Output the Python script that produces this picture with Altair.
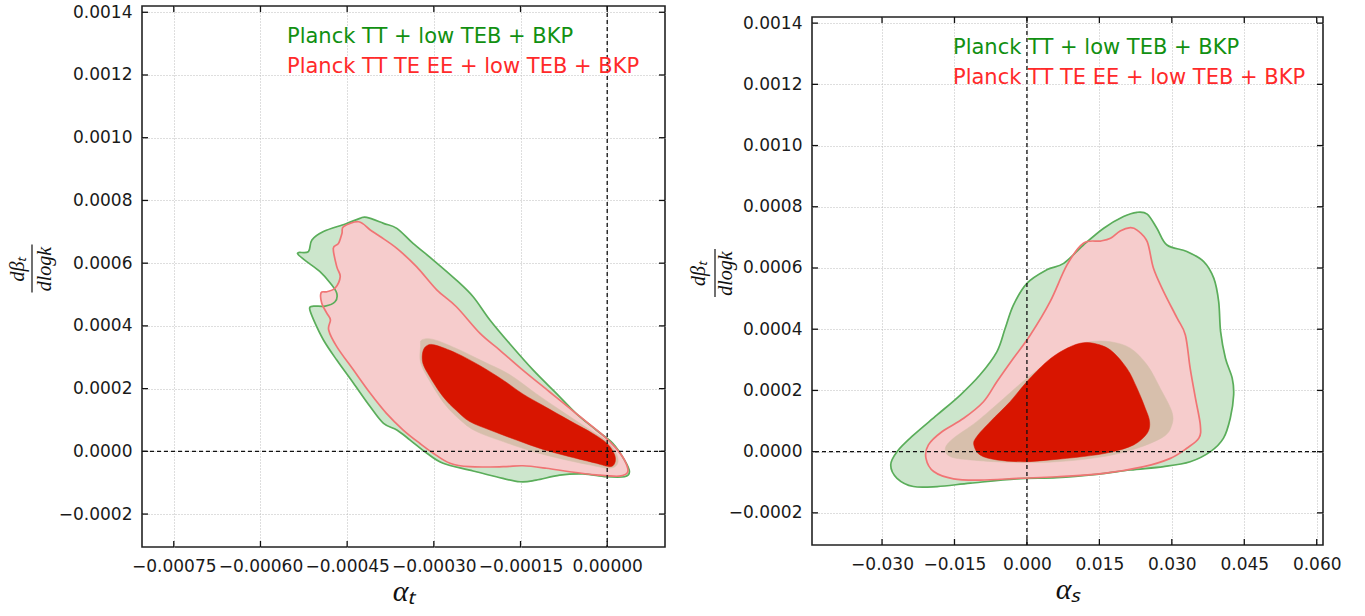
import altair as alt
import pandas as pd

# ---------------- data (left panel: alpha_t vs dbeta_t/dlogk), x and y in units of 1e-5 ----------------
L_SCALE_X = 1e-5
L_SCALE_Y = 1e-5

L_green95_x = [-53.4, -51.7, -51.1, -49.1, -45.3, -42.8, -41.6, -38.7, -36.4, -33.6, -30.1, -26.1, -23.2, -20.3,
               -16.9, -12.8, -8.8, -5.4, -1.9, 1.0, 3.0, 3.85, 3.0, -0.2, -4.2, -8.2, -12.3, -15.1, -19.2, -23.8,
               -28.4, -31.2, -34.1, -36.4, -38.7, -41.0, -43.9, -46.8, -49.1, -50.8, -51.5, -50.8, -48.8, -47.1,
               -46.8, -47.9, -49.7, -52.0, -53.4]
L_green95_y = [63.4, 63.7, 67.4, 70.1, 72.5, 74.3, 74.6, 72.7, 71.1, 66.3, 61.0, 54.6, 49.3, 41.9,
               34.4, 25.9, 18.5, 12.1, 6.8, 2.5, -2.8, -6.5, -8.1, -8.1, -7.2, -7.6, -9.2, -9.7, -8.1, -6.0,
               -3.8, -0.6, 3.6, 6.8, 8.9, 14.2, 21.7, 29.1, 35.5, 41.9, 45.6, 46.3, 46.3, 47.7,
               50.4, 53.6, 57.3, 60.5, 62.6]

L_red95_x = [-43.0, -41.0, -39.3, -36.4, -33.0, -29.5, -26.1, -22.0, -18.6, -14.6, -10.0, -5.4, -0.75, 1.55,
             3.0, 3.56, 2.1, -1.9, -6.5, -10.5, -14.6, -18.0, -23.8, -27.2, -30.1, -32.4, -35.3, -38.2, -41.0,
             -43.9, -46.8, -48.2, -47.9, -48.5, -49.4, -49.5, -48.5, -47.1, -46.2, -46.8, -47.4, -46.5, -45.9,
             -45.6]
L_red95_y = [73.2, 70.6, 68.5, 64.7, 58.9, 51.5, 46.1, 37.6, 32.3, 25.9, 19.0, 12.1, 5.2, 0.95,
             -2.8, -6.5, -7.9, -7.5, -6.5, -5.4, -4.6, -4.9, -4.9, -3.8, -0.6, 2.5, 6.8, 12.1, 18.5,
             25.9, 33.4, 38.7, 41.9, 44.0, 47.2, 50.6, 50.9, 52.0, 55.7, 58.9, 64.7, 66.3, 69.5,
             71.7]

L_green68_x = [-32.1, -30.1, -26.1, -21.5, -16.9, -12.3, -7.7, -3.1, -0.2, 1.55, 1.8, 0.4, -3.1, -7.7,
               -12.8, -18.0, -22.6, -25.2, -28.1, -30.8, -32.3, -32.3]
L_green68_y = [35.5, 35.7, 32.8, 28.7, 24.5, 18.4, 12.6, 7.0, 3.5, -0.6, -3.9, -5.4, -4.3, -2.5,
               -0.1, 3.1, 6.3, 9.6, 15.0, 22.7, 28.3, 33.4]

L_red68_x = [-31.2, -29.8, -26.1, -22.0, -18.0, -14.6, -11.1, -6.5, -2.5, 0.1, 1.3, 1.3, 0.4, -1.9,
             -6.5, -11.1, -15.7, -20.3, -23.8, -26.1, -28.4, -30.7, -31.9, -31.9]
L_red68_y = [33.7, 33.9, 31.3, 27.3, 22.7, 18.3, 14.6, 9.8, 5.7, 2.3, -1.2, -3.8, -4.9, -3.8,
             -1.7, 0.6, 3.6, 6.8, 9.5, 13.0, 17.4, 23.8, 28.1, 31.8]

# ---------------- data (right panel: alpha_s vs dbeta_t/dlogk), x in 1e-3, y in 1e-5 ----------------
R_SCALE_X = 1e-3
R_SCALE_Y = 1e-5

R_green95_x = [22.8, 24.9, 26.9, 29.0, 33.1, 36.6, 38.7, 39.7, 40.1, 41.1, 42.5, 42.8, 42.1, 40.7, 38.0,
               33.8, 28.3, 21.4, 14.5, 6.2, -2.1, -11.7, -18.6, -23.5, -26.9, -28.2, -26.9, -23.5, -18.6,
               -13.8, -9.7, -6.2, -4.5, -2.8, 0.0, 4.1, 7.6, 11.7, 15.9, 20.0]
R_green95_y = [78.2, 77.6, 73.0, 67.5, 65.4, 62.1, 56.6, 49.0, 39.2, 30.5, 24.0, 18.5, 10.9, 4.4, 0.0,
               -3.3, -4.9, -6.0, -7.4, -8.5, -8.9, -10.3, -11.4, -11.4, -8.7, -4.4, 0.0, 5.4, 12.0,
               18.5, 25.1, 32.7, 40.3, 47.9, 55.0, 59.4, 61.5, 67.5, 73.0, 76.8]

R_red95_x = [21.4, 22.8, 24.9, 26.2, 28.3, 31.1, 32.8, 33.8, 34.9, 35.9, 35.6, 33.1, 29.7, 24.2, 15.9,
             6.2, -1.4, -9.7, -15.2, -19.3, -20.9, -20.4, -17.6, -13.1, -9.0, -6.2, -2.8, 0.7, 4.8, 8.3,
             11.7, 15.2, 17.3, 19.3]
R_red95_y = [73.2, 72.4, 68.6, 59.9, 52.3, 43.6, 38.1, 27.2, 17.4, 8.7, 4.4, 1.1, -2.2, -4.9, -7.1,
             -8.2, -8.7, -9.3, -8.9, -6.5, -2.2, 2.2, 6.5, 10.9, 16.3, 22.9, 30.5, 38.1, 49.0, 61.0,
             68.1, 68.8, 69.7, 72.1]

R_green68_x = [13.1, 17.3, 21.4, 24.9, 27.6, 30.0, 30.0, 28.3, 22.8, 15.9, 6.2, -3.5, -11.7, -15.9,
               -16.9, -15.2, -10.4, -4.8, 0.0, 5.5, 9.7]
R_green68_y = [35.9, 35.9, 33.8, 28.3, 20.7, 13.1, 8.7, 4.9, 1.1, -1.6, -3.3, -3.5, -2.7, -1.6,
               1.1, 4.4, 9.8, 17.4, 24.0, 30.5, 34.3]

R_red68_x = [11.0, 13.8, 17.3, 20.7, 22.8, 24.5, 25.4, 24.9, 22.1, 17.3, 11.7, 4.8, -0.7, -6.2, -9.7,
             -11.0, -10.4, -7.6, -3.5, 0.0, 4.1, 7.6]
R_red68_y = [35.4, 35.4, 33.2, 27.2, 20.7, 14.2, 9.8, 6.0, 2.2, -0.2, -1.6, -2.7, -3.3, -2.7, -1.1,
             2.2, 4.9, 9.8, 16.3, 22.9, 29.4, 33.2]

# axis tick values
Y_TICKS = [-0.0002, 0.0, 0.0002, 0.0004, 0.0006, 0.0008, 0.0010, 0.0012, 0.0014]
L_X_TICKS = [-0.00075, -0.0006, -0.00045, -0.0003, -0.00015, 0.0]
R_X_TICKS = [-0.030, -0.015, 0.0, 0.015, 0.030, 0.045, 0.060]

Y_DOMAIN = [-0.000305, 0.00142]
L_X_DOMAIN = [-0.000805, 0.0001]
R_X_DOMAIN = [-0.0445, 0.0613]

LEGEND_LABELS = ["Planck TT + low TEB + BKP", "Planck TT TE EE + low TEB + BKP"]
Y_TITLE = ["dβₜ", "dlogk"]

# ---------------- styles ----------------
C_GREEN_FILL = "#cce6cc"
C_GREEN_LINE = "#5aad5a"
C_PINK_FILL = "#f6cccc"
C_RED_LINE = "#f07474"
C_TAN_FILL = "#d7bfac"
C_RED_FILL = "#d81500"
C_GREEN_TEXT = "#119011"
C_RED_TEXT = "#ff2a2a"
SANS = "DejaVu Sans"
SERIF = "Liberation Serif"


def poly(xs, ys, sx, sy):
    return pd.DataFrame({"x": [v * sx for v in xs], "y": [v * sy for v in ys], "i": list(range(len(xs)))})


def make_panel(polys, xdom, xticks, xfmt, xtitle, w, h, ytitle_x, bar_x, text_x):
    xs = alt.Scale(domain=xdom, nice=False, zero=False)
    ys = alt.Scale(domain=Y_DOMAIN, nice=False, zero=False)
    xaxis = alt.Axis(values=xticks, format=xfmt, grid=True, gridDash=[1, 2], gridColor="#bcbcbc",
                     ticks=False, domain=False, labelFont=SANS, labelFontSize=17, labelColor="#1a1a1a",
                     labelPadding=11, title=xtitle, titleFont=SERIF, titleFontStyle="italic",
                     titleFontWeight="normal", titleFontSize=30, titlePadding=2, titleColor="#111111")
    yaxis = alt.Axis(values=Y_TICKS, format=".4f", grid=True, gridDash=[1, 2], gridColor="#bcbcbc",
                     ticks=False, domain=False, labelFont=SANS, labelFontSize=17, labelColor="#1a1a1a",
                     labelPadding=10, title=Y_TITLE, titleFont=SERIF, titleFontStyle="italic",
                     titleFontWeight="normal", titleFontSize=20, titleLineHeight=27, titleColor="#111111",
                     titleX=ytitle_x, titleY=h / 2 - 8, titleBaseline="middle", titleAlign="center")

    def fill_layer(df, color, axes=False):
        if axes:
            enc = dict(x=alt.X("x:Q", scale=xs, axis=xaxis), y=alt.Y("y:Q", scale=ys, axis=yaxis))
        else:
            enc = dict(x="x:Q", y="y:Q")
        return alt.Chart(df).mark_line(fill=color, stroke=color, strokeWidth=0.5, interpolate="cardinal-closed",
                                       clip=True).encode(order=alt.Order("i:Q"), **enc)

    def line_layer(df, color):
        return alt.Chart(df).mark_line(stroke=color, strokeWidth=1.7, interpolate="cardinal-closed",
                                       clip=True).encode(x="x:Q", y="y:Q", order=alt.Order("i:Q"))

    g95, r95, g68, r68 = polys
    layers = [
        fill_layer(g95, C_GREEN_FILL, axes=True),
        fill_layer(r95, C_PINK_FILL),
        fill_layer(g68, C_TAN_FILL),
        fill_layer(r68, C_RED_FILL),
        line_layer(g95, C_GREEN_LINE),
        line_layer(r95, C_RED_LINE),
    ]
    # dashed zero lines
    zero_df = pd.DataFrame({"x": [0.0], "y": [0.0]})
    layers.append(alt.Chart(zero_df).mark_rule(color="#111111", strokeDash=[4, 3], strokeWidth=1.3).encode(y="y:Q"))
    layers.append(alt.Chart(zero_df).mark_rule(color="#111111", strokeDash=[4, 3], strokeWidth=1.3).encode(x="x:Q"))
    # inward ticks on all four sides
    ydf = pd.DataFrame({"y": Y_TICKS})
    xdf = pd.DataFrame({"x": xticks})
    tk = dict(color="#111111", strokeWidth=1.3)
    layers.append(alt.Chart(ydf).mark_rule(**tk).encode(y="y:Q", x=alt.value(0), x2=alt.value(6)))
    layers.append(alt.Chart(ydf).mark_rule(**tk).encode(y="y:Q", x=alt.value(w - 6), x2=alt.value(w)))
    layers.append(alt.Chart(xdf).mark_rule(**tk).encode(x="x:Q", y=alt.value(h - 6), y2=alt.value(h)))
    layers.append(alt.Chart(xdf).mark_rule(**tk).encode(x="x:Q", y=alt.value(0), y2=alt.value(6)))
    # legend texts
    for lab, col, yy in [(LEGEND_LABELS[0], C_GREEN_TEXT, 37), (LEGEND_LABELS[1], C_RED_TEXT, 67)]:
        layers.append(alt.Chart(pd.DataFrame({"t": [lab]})).mark_text(
            font=SANS, fontSize=21, color=col, align="left", baseline="alphabetic"
        ).encode(text="t:N", x=alt.value(text_x), y=alt.value(yy)))
    # fraction bar of the y-axis title
    layers.append(alt.Chart(pd.DataFrame({"t": [0]})).mark_rule(color="#111111", strokeWidth=1.2).encode(
        x=alt.value(bar_x), y=alt.value(h / 2 - 32), y2=alt.value(h / 2 + 16)))
    return alt.layer(*layers).properties(width=w, height=h)


left = make_panel(
    [poly(L_green95_x, L_green95_y, L_SCALE_X, L_SCALE_Y), poly(L_red95_x, L_red95_y, L_SCALE_X, L_SCALE_Y),
     poly(L_green68_x, L_green68_y, L_SCALE_X, L_SCALE_Y), poly(L_red68_x, L_red68_y, L_SCALE_X, L_SCALE_Y)],
    L_X_DOMAIN, L_X_TICKS, ".5f", "αₜ", 523, 541, -125, -110, 145)

right_panel = make_panel(
    [poly(R_green95_x, R_green95_y, R_SCALE_X, R_SCALE_Y), poly(R_red95_x, R_red95_y, R_SCALE_X, R_SCALE_Y),
     poly(R_green68_x, R_green68_y, R_SCALE_X, R_SCALE_Y), poly(R_red68_x, R_red68_y, R_SCALE_X, R_SCALE_Y)],
    R_X_DOMAIN, R_X_TICKS, ".3f", "αₛ", 511, 528, -114, -97, 141)

# invisible spacer that lowers the right panel a little
spacer = alt.Chart(pd.DataFrame({"a": [0]})).mark_point(opacity=0).encode(
    x=alt.value(0), y=alt.value(0)).properties(width=10, height=6, view=alt.ViewBackground(stroke="transparent"))

right = alt.vconcat(spacer, right_panel, spacing=0)

chart = alt.hconcat(left, right, spacing=20).configure_view(stroke="#222222", strokeWidth=1.6).properties(
    background="white", padding={"left": 6, "top": 2, "right": 5, "bottom": 5})

chart.save("out.html", embed_options={"renderer": "svg", "actions": False})
